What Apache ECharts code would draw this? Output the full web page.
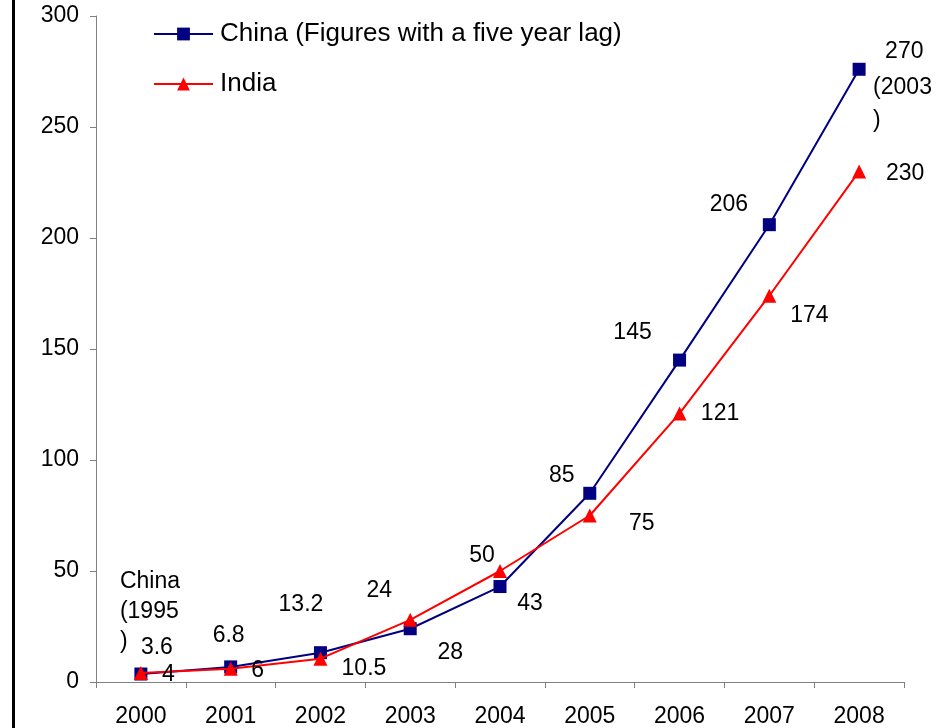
<!DOCTYPE html>
<html><head><meta charset="utf-8">
<script src="https://cdn.jsdelivr.net/npm/echarts@6/dist/echarts.min.js"></script>
<style>html,body{margin:0;padding:0;background:#fff}#c{width:948px;height:728px}</style>
</head><body><div id="c"></div>
<script>
const years = ['2000','2001','2002','2003','2004','2005','2006','2007','2008'];
const chinaValues = [3.6, 6.8, 13.2, 24, 43, 85, 145, 206, 276];
const chinaLabels = ['3.6','6.8','13.2','24','43','85','145','206','270'];
const chinaNote2000 = ['China', '(1995', ')'];
const chinaNote2008 = ['(2003', ')'];
const indiaValues = [4, 6, 10.5, 28, 50, 75, 121, 174, 230];
const indiaLabels = ['4','6','10.5','28','50','75','121','174','230'];
const seriesNames = ['China (Figures with a five year lag)', 'India'];

// label offsets (style only)
const chinaOffsets = [[16,-26],[-2,-31],[-19.5,-48],[-31,-38],[30,17],[-28,-18],[-47,-27.5],[-40.5,-20],[14,-37]];
const indiaOffsets = [[27.5,2],[27,1.5],[43.5,10],[40,33],[-18,-15.5],[52,8.5],[40.5,0.7],[40,20],[46,2]];

const FONT = 'Liberation Sans, Arial, sans-serif';
const FS = 23;

function chinaData() {
  return chinaValues.map((v, i) => {
    const last = i === chinaValues.length - 1;
    return {
      value: v,
      label: last ? {
        show: true, position: 'inside', offset: chinaOffsets[i], align: 'left', verticalAlign: 'top',
        formatter: () => '{a|' + chinaLabels[i] + '}\n{b|' + chinaNote2008[0] + '}\n{c|' + chinaNote2008[1] + '}',
        rich: {
          a: {fontSize: FS, fontFamily: FONT, color: '#000', lineHeight: 38, padding: [0,0,0,12]},
          b: {fontSize: FS, fontFamily: FONT, color: '#000', lineHeight: 35},
          c: {fontSize: FS, fontFamily: FONT, color: '#000', lineHeight: 31}
        }
      } : {
        show: true, position: 'inside', offset: chinaOffsets[i], align: 'center', verticalAlign: 'middle',
        formatter: () => chinaLabels[i]
      }
    };
  });
}
function indiaData() {
  return indiaValues.map((v, i) => ({
    value: v,
    label: {show: true, position: 'inside', offset: indiaOffsets[i], align: 'center', verticalAlign: 'middle',
      formatter: () => indiaLabels[i]}
  }));
}

const chart = echarts.init(document.getElementById('c'), null, {renderer: 'canvas'});
chart.setOption({
  animation: false,
  backgroundColor: '#fff',
  textStyle: {fontFamily: FONT},
  graphic: [{type: 'rect', shape: {x: 12, y: 0, width: 3, height: 728}, style: {fill: '#000'}, silent: true}],
  grid: {left: 96, right: 44, top: 16, bottom: 44.5, containLabel: false},
  legend: {
    orient: 'vertical', left: 148, top: 16, itemWidth: 59, itemHeight: 16, itemGap: 24,
    textStyle: {fontSize: 26, fontFamily: FONT, color: '#000', padding: [0,0,0,2]},
    data: seriesNames
  },
  xAxis: {
    type: 'category', data: years, boundaryGap: true,
    axisLine: {lineStyle: {color: '#808080', width: 1}},
    axisTick: {show: true, alignWithLabel: false, length: 6, lineStyle: {color: '#808080'}},
    axisLabel: {fontSize: FS, fontFamily: FONT, color: '#000', margin: 23, interval: 0}
  },
  yAxis: {
    type: 'value', min: 0, max: 300, interval: 50,
    splitLine: {show: false},
    axisLine: {show: true, lineStyle: {color: '#808080', width: 1}},
    axisTick: {show: true, length: 6, lineStyle: {color: '#808080'}},
    axisLabel: {fontSize: FS, fontFamily: FONT, color: '#000', margin: 17}
  },
  series: [
    {
      name: seriesNames[0], type: 'line', data: chinaData(),
      symbol: 'rect', symbolSize: 13,
      lineStyle: {color: '#000080', width: 2},
      itemStyle: {color: '#000080'},
      label: {color: '#000', fontSize: FS, fontFamily: FONT},
      emphasis: {disabled: true},
      markPoint: {
        symbol: 'circle', symbolSize: 1, itemStyle: {color: 'rgba(0,0,0,0)'},
        data: [{
          coord: [0, chinaValues[0]],
          label: {
            show: true, position: 'inside', offset: [-21, -62.5], align: 'left', verticalAlign: 'middle',
            fontSize: FS, fontFamily: FONT, color: '#000', lineHeight: 30,
            formatter: () => chinaNote2000.join('\n')
          }
        }]
      },
      z: 2
    },
    {
      name: seriesNames[1], type: 'line', data: indiaData(),
      symbol: 'triangle', symbolSize: 14,
      lineStyle: {color: '#FF0000', width: 2},
      itemStyle: {color: '#FF0000'},
      label: {color: '#000', fontSize: FS, fontFamily: FONT},
      emphasis: {disabled: true},
      z: 3
    }
  ]
});
</script>
</body></html>
